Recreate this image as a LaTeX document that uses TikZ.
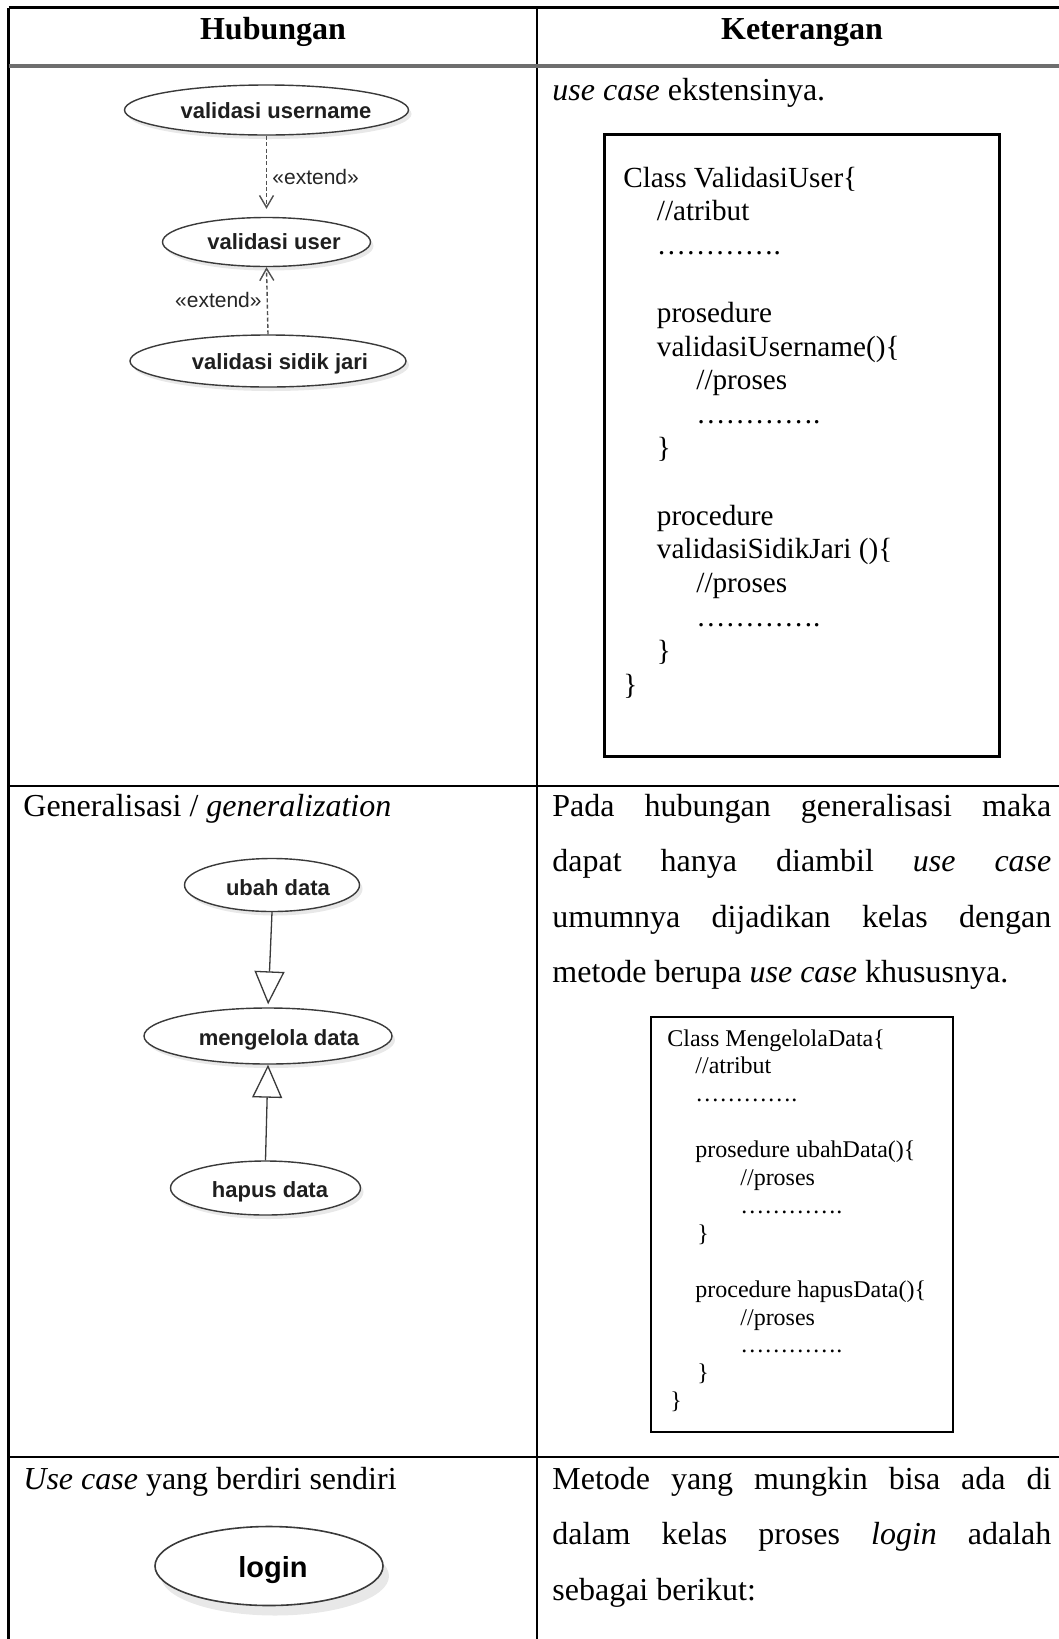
\documentclass[tikz,border=0pt]{standalone}
\usepackage{fontspec}
\setmainfont{Liberation Serif}
\newfontfamily\ucfont{Liberation Sans}
\usetikzlibrary{shapes.geometric,arrows.meta,shadows}
\newcommand{\jline}[1]{\hbox{\makebox[249.5pt][s]{#1}}}
\newcommand{\nline}[1]{\hbox{#1}}
\newcommand{\codeln}[2]{\hbox{\kern#1\relax#2}}
\definecolor{ucline}{HTML}{3A3A3A}
\definecolor{hdrgray}{HTML}{6E6E6E}
\definecolor{extgray}{HTML}{505050}
\begin{document}
\begin{tikzpicture}[x=0.5pt,y=-0.5pt,
  uc/.style={ellipse, draw=ucline, line width=0.7pt, fill=white, inner sep=0pt,
    drop shadow={shadow xshift=1.5pt, shadow yshift=-2pt, fill=black, opacity=0.09}},
  uct/.style={font=\ucfont\bfseries\fontsize{11}{13}\selectfont, text=black!88, inner sep=0pt, anchor=base},
  extlbl/.style={font=\ucfont\fontsize{10.5}{12}\selectfont, text=black!85, inner sep=0pt},
  ext/.style={draw=extgray, line width=0.7pt, dash pattern=on 2pt off 1.2pt, -{Straight Barb[length=6pt,width=7pt]}},
  gen/.style={draw=ucline, line width=0.65pt, -{Triangle[open,length=16.5pt,width=15pt,line width=0.65pt]}},
  hdr/.style={font=\bfseries\fontsize{16}{19}\selectfont, inner sep=0pt, anchor=base},
  body/.style={font=\fontsize{16}{27.75}\selectfont, inner sep=0pt, anchor=base west},
  tline/.style={draw=black, line width=1.3pt},
  codebox/.style={draw=black, anchor=north west, inner sep=0pt}
]
\useasboundingbox (0,0) rectangle (1059,1639);
\clip (0,0) rectangle (1059,1639);
\fill[white] (0,0) rectangle (1059,1639);

% table rules
\draw[tline, line width=1.4pt] (8.5,7.7) -- (1070,7.7);
\draw[tline, line width=1.4pt] (8.5,7.7) -- (8.5,1660);
\draw[tline, line width=1.2pt] (537,7.7) -- (537,1660);
\draw[draw=hdrgray, line width=2pt] (8.5,66.3) -- (1070,66.3);
\draw[tline, line width=1.2pt] (8.5,786) -- (1070,786);
\draw[tline, line width=1.2pt] (8.5,1457) -- (1070,1457);

% header
\node[hdr] (h1) at (273,39.5) {Hubungan};
\node[hdr] (h2) at (802,39.5) {Keterangan};

% ---------- row 1 : extend ----------
\node[uc, minimum width=142pt, minimum height=25pt] (u1) at (266.5,110) {};
\node[uct] (u1t) at (276,118) {validasi username};
\node[uc, minimum width=104pt, minimum height=24.5pt] (u2) at (266.5,242) {};
\node[uct] (u2t) at (274,249) {validasi user};
\node[uc, minimum width=138pt, minimum height=26pt] (u3) at (268,361) {};
\node[uct] (u3t) at (280,369) {validasi sidik jari};
\draw[ext, shorten >=4pt] (u1.south) -- (u2.north);
\draw[ext] (u3.north) -- (u2.south);
\node[extlbl, anchor=base west] (e1) at (272,184) {«extend»};
\node[extlbl, anchor=base east] (e2) at (262,307) {«extend»};

\node[body] (r1t) at (552,100) {\textit{use case} ekstensinya.};
\node[codebox, line width=1.4pt, minimum width=197.5pt, minimum height=311pt] (box1) at (603,133) {};
\node[inner sep=0pt, anchor=base west, font=\fontsize{14.6}{16.9}\selectfont] (code1) at (623,187) {\vtop{%
\codeln{0pt}{Class ValidasiUser\{}%
\codeln{16.75pt}{//atribut}%
\codeln{16.75pt}{………….}%
\codeln{0pt}{}%
\codeln{16.75pt}{prosedure}%
\codeln{16.75pt}{validasiUsername()\{}%
\codeln{36.5pt}{//proses}%
\codeln{36.5pt}{………….}%
\codeln{16.75pt}{\}}%
\codeln{0pt}{}%
\codeln{16.75pt}{procedure}%
\codeln{16.75pt}{validasiSidikJari ()\{}%
\codeln{36.5pt}{//proses}%
\codeln{36.5pt}{………….}%
\codeln{16.75pt}{\}}%
\codeln{0pt}{\}}}};

% ---------- row 2 : generalization ----------
\node[body] (r2l) at (23,816) {Generalisasi / \textit{generalization}};
\node[uc, minimum width=87.5pt, minimum height=26.5pt] (g1) at (272,885) {};
\node[uct] (g1t) at (278,895) {ubah data};
\node[uc, minimum width=124pt, minimum height=28pt] (g2) at (268,1036) {};
\node[uct] (g2t) at (279,1045) {mengelola data};
\node[uc, minimum width=95pt, minimum height=27pt] (g3) at (265.5,1188) {};
\node[uct] (g3t) at (270,1197) {hapus data};
\draw[gen, shorten >=1.5pt] (g1.south) -- (g2.north);
\draw[gen] (g3.north) -- (g2.south);

\node[body] (r2r) at (552,816) {\vtop{%
\jline{Pada hubungan generalisasi maka}%
\jline{dapat hanya diambil \textit{use case}}%
\jline{umumnya dijadikan kelas dengan}%
\nline{metode berupa \textit{use case} khususnya.}}};
\node[codebox, line width=1.1pt, minimum width=151.25pt, minimum height=207.75pt] (box2) at (649.5,1015.5) {};
\node[inner sep=0pt, anchor=base west, font=\fontsize{12}{13.95}\selectfont] (code2) at (667,1046) {\vtop{%
\codeln{0pt}{Class MengelolaData\{}%
\codeln{14pt}{//atribut}%
\codeln{14pt}{………….}%
\codeln{0pt}{}%
\codeln{14pt}{prosedure ubahData()\{}%
\codeln{36.5pt}{//proses}%
\codeln{36.5pt}{………….}%
\codeln{15pt}{\}}%
\codeln{0pt}{}%
\codeln{14pt}{procedure hapusData()\{}%
\codeln{36.5pt}{//proses}%
\codeln{36.5pt}{………….}%
\codeln{15pt}{\}}%
\codeln{1.5pt}{\}}}};

% ---------- row 3 : standalone use case ----------
\node[body] (r3l) at (23,1489) {\textit{Use case} yang berdiri sendiri};
\node[ellipse, draw=ucline, line width=0.8pt, fill=white, inner sep=0pt,
  drop shadow={shadow xshift=3pt, shadow yshift=-5pt, fill=black, opacity=0.09},
  minimum width=114pt, minimum height=39.5pt] (lg) at (269,1566) {};
\node[font=\ucfont\bfseries\fontsize{14.5}{17}\selectfont, inner sep=0pt, anchor=base] (lgt) at (273,1577) {login};
\node[body] (r3r) at (552,1489) {\vtop{%
\jline{Metode yang mungkin bisa ada di}%
\jline{dalam kelas proses \textit{login} adalah}%
\nline{sebagai berikut:}}};
\end{tikzpicture}
\end{document}
